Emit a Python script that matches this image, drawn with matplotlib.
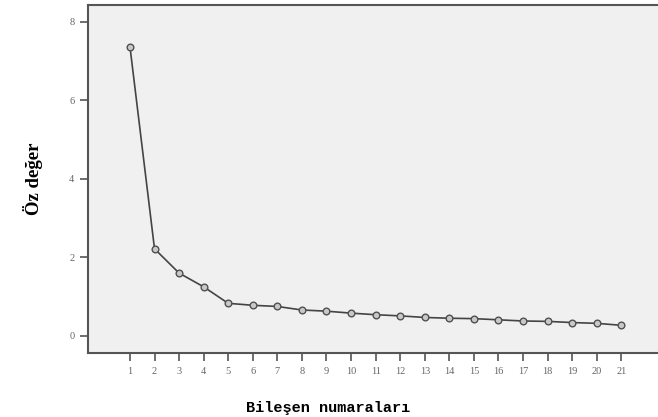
import matplotlib
matplotlib.use("AGG")
import matplotlib.pyplot as plt

# scree plot data
components = list(range(1, 22))
eigenvalues = [7.37, 2.22, 1.60, 1.25, 0.83, 0.78, 0.75, 0.66, 0.63, 0.58, 0.54,
               0.51, 0.47, 0.45, 0.44, 0.41, 0.38, 0.37, 0.34, 0.32, 0.27]
y_ticks = [0, 2, 4, 6, 8]

fig = plt.figure(figsize=(6.58, 4.17), dpi=100)
ax = fig.add_axes([0.134, 0.154, 0.87, 0.835])
ax.set_facecolor("#f0f0f0")

ax.plot(components, eigenvalues, color="#444444", linewidth=1.2,
        marker="o", markersize=4.8, markerfacecolor="#c8c8c8",
        markeredgecolor="#505050", markeredgewidth=1.0)

ax.set_xlim(-0.7, 22.6)
ax.set_ylim(-0.43, 8.44)
ax.set_xticks(components)
ax.set_yticks(y_ticks)

for side in ["left", "bottom", "top"]:
    ax.spines[side].set_color("#555555")
    ax.spines[side].set_linewidth(1.5)
ax.spines["right"].set_visible(False)

ax.tick_params(direction="out", length=6, width=1.2, color="#555555",
               labelsize=7.5, labelcolor="#666666", pad=4)
for lbl in ax.get_xticklabels() + ax.get_yticklabels():
    lbl.set_family("Liberation Serif")

ax.set_xlabel("Bileşen numaraları", family="Liberation Mono",
              fontweight="bold", fontsize=11, labelpad=18)
ax.xaxis.label.set_x(0.42)  # centred on the figure, not the axes
ax.set_ylabel("Öz değer", family="Liberation Serif",
              fontweight="bold", fontsize=13.5, labelpad=19)

plt.savefig("out.png", dpi=100)
